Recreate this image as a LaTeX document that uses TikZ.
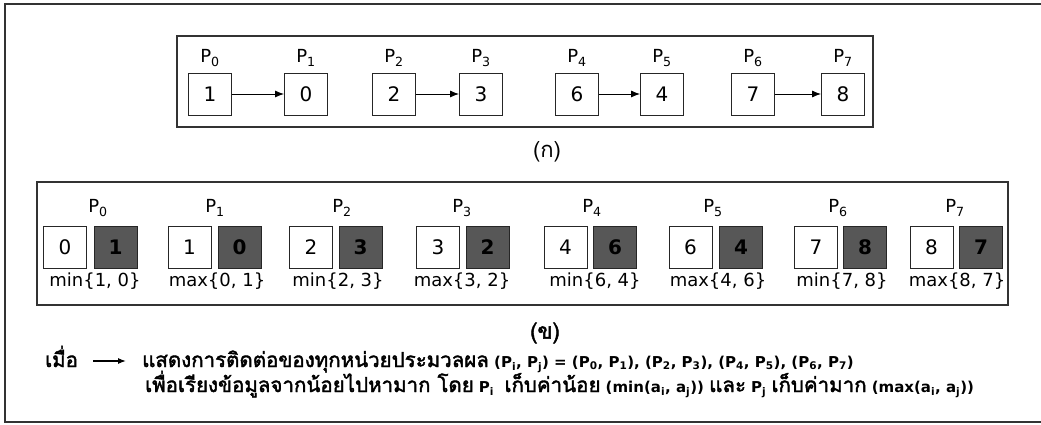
\documentclass[tikz,border=0pt]{standalone}
\usepackage{fontspec}
\setmainfont{DejaVu Sans}
\newfontfamily\thaifont[Script=Thai]{Loma}
\newfontfamily\thaiboldfont[Script=Thai,FakeBold=2]{Loma}
\newcommand\thaitxt[1]{{\thaiboldfont\fontsize{20.5}{20.5}\selectfont #1}}
\newcommand\latintxt[1]{{\bfseries\fontsize{15}{15}\selectfont #1}}
\usetikzlibrary{arrows.meta}
\begin{document}
\begin{tikzpicture}[x=1pt,y=-1pt,
  frame/.style={draw=black!80,line width=1.3pt},
  cell/.style={draw=black!85,line width=0.9pt,minimum width=43pt,minimum height=42pt,
    inner sep=0pt,font=\fontsize{20}{20}\selectfont},
  darkcell/.style={cell,fill=black!66,font=\fontsize{20}{20}\selectfont\bfseries},
  plabel/.style={font=\fontsize{18}{18}\selectfont,inner sep=0pt},
  oplabel/.style={font=\fontsize{18}{18}\selectfont,inner sep=0pt},
  link/.style={-{Latex[length=9pt,width=7pt]},line width=0.9pt},
  caption/.style={font=\thaifont\fontsize{22}{22}\selectfont,inner sep=0pt},
  legend/.style={anchor=base west,inner sep=0pt}
]
\useasboundingbox (0,0) rectangle (1041,425);

% outer frame
\draw[frame] (1045,4) -- (5,4) -- (5,422) -- (1045,422);

% (a) pairwise exchange between neighbouring processors
\draw[frame] (177,36) rectangle (873,127);
\foreach \i/\x/\v in {0/210/1, 1/306/0, 2/394/2, 3/481/3, 4/577/6, 5/662/4, 6/753/7, 7/843/8}{
  \node[cell] (a\i) at (\x,94) {\v};
  \node[plabel] (pa\i) at (\x,58) {P\textsubscript{\i}};
}
\draw[link] (a0) -- (a1);
\draw[link] (a2) -- (a3);
\draw[link] (a4) -- (a5);
\draw[link] (a6) -- (a7);
\node[caption] (capa) at (547,152) {(ก)};

% (b) each processor keeps min or max of its pair
\draw[frame] (37,182) rectangle (1008,305);
\foreach \i/\xw/\xd/\xl/\xt/\vw/\vd/\op in {
  0/65/115.5/98/95/0/1/{min\{1, 0\}},
  1/189.5/239.5/215/217/1/0/{max\{0, 1\}},
  2/311/360.5/342/338/2/3/{min\{2, 3\}},
  3/438/487.5/462/462/3/2/{max\{3, 2\}},
  4/565.5/615/592/595/4/6/{min\{6, 4\}},
  5/690.5/741/713/718/6/4/{max\{4, 6\}},
  6/816/865/838/842/7/8/{min\{7, 8\}},
  7/931.5/981/955/957/8/7/{max\{8, 7\}}}{
  \node[cell] (w\i) at (\xw,247) {\vw};
  \node[darkcell] (d\i) at (\xd,247) {\vd};
  \node[plabel] (pb\i) at (\xl,208) {P\textsubscript{\i}};
  \node[oplabel] (m\i) at (\xt,281) {\op};
}
\node[caption,font=\thaiboldfont\fontsize{22}{22}\selectfont] (capb) at (545,333) {(ข)};

% legend
\node[legend] (lw) at (45,367) {\thaitxt{เมื่อ}};
\coordinate (la) at (93,361);
\coordinate (lb) at (126,361);
\draw[-{Latex[length=8pt,width=6pt]},line width=1.2pt] (la) -- (lb);
\node[legend] (l1) at (142,367) {\thaitxt{แสดงการติดต่อของทุกหน่วยประมวลผล}\latintxt{ (P\textsubscript{i}, P\textsubscript{j}) = (P\textsubscript{0}, P\textsubscript{1}), (P\textsubscript{2}, P\textsubscript{3}), (P\textsubscript{4}, P\textsubscript{5}), (P\textsubscript{6}, P\textsubscript{7})}};
\node[legend] (l2) at (145,392) {\thaitxt{เพื่อเรียงข้อมูลจากน้อยไปหามาก โดย}\latintxt{ P\textsubscript{i}\ \ }\thaitxt{เก็บค่าน้อย}\latintxt{ (min(a\textsubscript{i}, a\textsubscript{j})) }\thaitxt{และ}\latintxt{ P\textsubscript{j} }\thaitxt{เก็บค่ามาก}\latintxt{ (max(a\textsubscript{i}, a\textsubscript{j}))}};
\end{tikzpicture}
\end{document}
